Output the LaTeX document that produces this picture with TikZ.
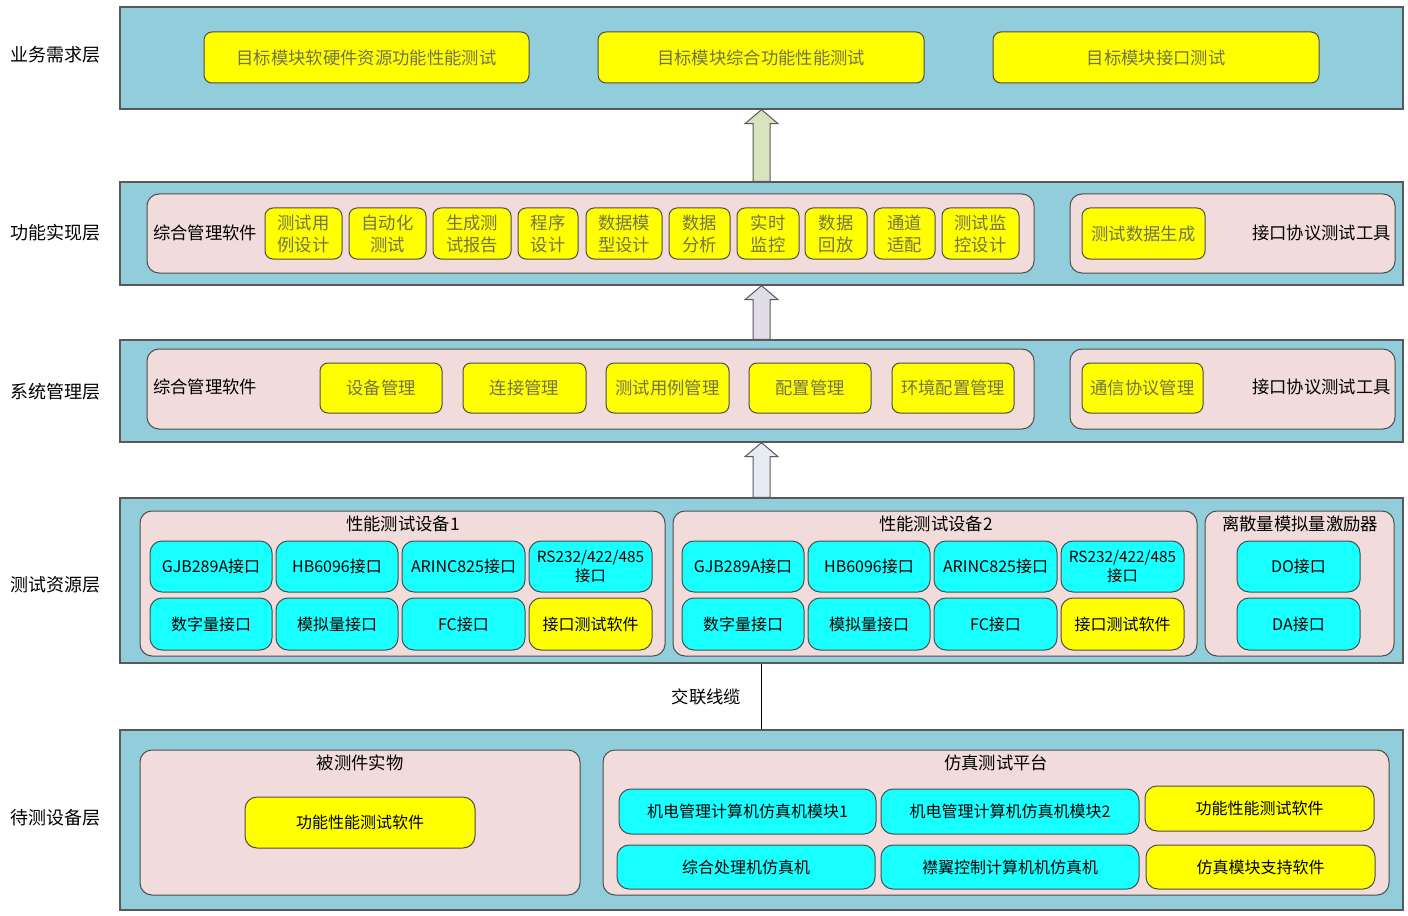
\documentclass[tikz,border=0pt]{standalone}
\usepackage{fontspec}
\usepackage{xcolor}
\usepackage{tikz}
\usetikzlibrary{positioning,fit,calc}
\newfontfamily\cjk{Noto Sans CJK SC}

\definecolor{layerblue}{RGB}{146,205,220}
\definecolor{panelpink}{RGB}{242,220,219}
\definecolor{boxyellow}{RGB}{255,255,0}
\definecolor{boxcyan}{RGB}{24,255,255}
\definecolor{dimtext}{RGB}{115,115,80}
\definecolor{edgegray}{RGB}{89,89,89}
\definecolor{arrowgreen}{RGB}{215,228,189}
\definecolor{arrowlilac}{RGB}{224,220,234}
\definecolor{arrowpale}{RGB}{230,236,245}

\begin{document}
\begin{tikzpicture}[x=0.75pt,y=0.75pt,yscale=-1,xscale=1,
    font=\cjk\fontsize{13}{16.5}\selectfont,
    wh/.style 2 args={minimum width=#1*0.75pt, minimum height=#2*0.75pt},
    layer/.style={draw=edgegray, fill=layerblue, line width=1pt, inner sep=0pt},
    panel/.style={draw=black!70, fill=panelpink, line width=0.75pt, rounded corners=9pt, inner sep=0pt},
    ybox/.style={draw=black!70, fill=boxyellow, line width=0.75pt, rounded corners=6pt, inner sep=0pt, align=center, text=dimtext},
    ysoft/.style={ybox, text=black, rounded corners=9pt, font=\cjk\fontsize{12}{15}\selectfont},
    cbox/.style={draw=black!70, fill=boxcyan, line width=0.75pt, rounded corners=9pt, inner sep=0pt, align=center, font=\cjk\fontsize{12}{15}\selectfont},
    side/.style={inner sep=0pt, font=\cjk\fontsize{13.5}{16}\selectfont},
    head/.style={inner sep=0pt},
    blockarrow/.style={draw=edgegray, line width=0.75pt, line join=miter}]
\useasboundingbox (0,0) rectangle (1408,916);

% Layers
\node[layer, fit={(120,7) (1403,109)}] (req) {};
\node[layer, fit={(120,182) (1403,285)}] (func) {};
\node[layer, fit={(120,340) (1403,442)}] (sys) {};
\node[layer, fit={(120,498) (1403,663)}] (res) {};
\node[layer, fit={(120,730) (1403,910)}] (dut) {};

% Layer names
\node[side] (nreq) at (55,55) {业务需求层};
\node[side] (nfunc) at (55,233) {功能实现层};
\node[side] (nsys) at (55,392) {系统管理层};
\node[side] (nres) at (55,585) {测试资源层};
\node[side] (ndut) at (55,818) {待测设备层};

% Business requirement layer
\node[ybox, wh={325}{51}] (r1) at (366.5,57.5) {目标模块软硬件资源功能性能测试};
\node[ybox, wh={326}{51}] (r2) at (761,57.5) {目标模块综合功能性能测试};
\node[ybox, wh={326}{51}] (r3) at (1156,57.5) {目标模块接口测试};

% Function layer
\node[panel, fit={(147,194) (1034,273)}] (fp1) {};
\node[panel, fit={(1070,194) (1395,273)}] (fp2) {};
\node[head, anchor=west] (fsw) at (153,233) {综合管理软件};
\node[ybox, wh={77}{51}] (f1) at (303.5,233.5) {测试用\\例设计};
\node[ybox, wh={77}{51}] (f2) at (387.5,233.5) {自动化\\测试};
\node[ybox, wh={78}{51}] (f3) at (472,233.5) {生成测\\试报告};
\node[ybox, wh={60}{51}] (f4) at (548,233.5) {程序\\设计};
\node[ybox, wh={76}{51}] (f5) at (624,233.5) {数据模\\型设计};
\node[ybox, wh={61}{51}] (f6) at (699.5,233.5) {数据\\分析};
\node[ybox, wh={62}{51}] (f7) at (768,233.5) {实时\\监控};
\node[ybox, wh={62}{51}] (f8) at (836,233.5) {数据\\回放};
\node[ybox, wh={61}{51}] (f9) at (904.5,233.5) {通道\\适配};
\node[ybox, wh={77}{51}] (f10) at (980.5,233.5) {测试监\\控设计};
\node[ybox, wh={123}{51}] (f11) at (1143.5,233.5) {测试数据生成};
\node[head, anchor=east] (ftool) at (1391,233) {接口协议测试工具};

% System management layer
\node[panel, fit={(147,349) (1034,429)}] (sp1) {};
\node[panel, fit={(1070,349) (1395,429)}] (sp2) {};
\node[head, anchor=west] (ssw) at (153,387) {综合管理软件};
\node[ybox, wh={122}{50}] (s1) at (381,388) {设备管理};
\node[ybox, wh={123}{50}] (s2) at (524.5,388) {连接管理};
\node[ybox, wh={123}{50}] (s3) at (667.5,388) {测试用例管理};
\node[ybox, wh={122}{50}] (s4) at (810,388) {配置管理};
\node[ybox, wh={122}{50}] (s5) at (953,388) {环境配置管理};
\node[ybox, wh={121}{50}] (s6) at (1142.5,388) {通信协议管理};
\node[head, anchor=east] (stool) at (1391,387) {接口协议测试工具};

% Test resource layer
\node[panel, fit={(140,511) (665,656)}] (tp1) {};
\node[panel, fit={(673,511) (1197,656)}] (tp2) {};
\node[panel, fit={(1205,511) (1394,656)}] (tp3) {};
\node[head] (th1) at (403,524) {性能测试设备1};
\node[head] (th2) at (936,524) {性能测试设备2};
\node[head] (th3) at (1300,524) {离散量模拟量激励器};
\foreach \dx/\dv in {0/1, 532/2} {
  \node[cbox, wh={122}{51}] (gjb\dv) at (211+\dx,566.5) {GJB289A接口};
  \node[cbox, wh={122}{51}] (hb\dv) at (337+\dx,566.5) {HB6096接口};
  \node[cbox, wh={123}{51}] (arinc\dv) at (463.5+\dx,566.5) {ARINC825接口};
  \node[cbox, wh={123}{51}, font=\cjk\fontsize{11.5}{14}\selectfont] (rs\dv) at (590.5+\dx,566.5) {RS232/422/485\\接口};
  \node[cbox, wh={122}{52}] (dig\dv) at (211+\dx,624) {数字量接口};
  \node[cbox, wh={122}{52}] (ana\dv) at (337+\dx,624) {模拟量接口};
  \node[cbox, wh={123}{52}] (fc\dv) at (463.5+\dx,624) {FC接口};
  \node[ysoft, wh={123}{52}] (its\dv) at (590.5+\dx,624) {接口测试软件};
}
\node[cbox, wh={123}{51}] (do) at (1298.5,566.5) {DO接口};
\node[cbox, wh={123}{52}] (da) at (1298.5,624) {DA接口};

% Device under test layer
\node[panel, fit={(140,750) (580,895)}] (up1) {};
\node[panel, fit={(603,750) (1389,895)}] (up2) {};
\node[head] (uh1) at (360,763) {被测件实物};
\node[head] (uh2) at (996,763) {仿真测试平台};
\node[ysoft, wh={230}{51}] (u1) at (360,822.5) {功能性能测试软件};
\node[cbox, wh={257}{45}] (m1) at (747.5,811.5) {机电管理计算机仿真机模块1};
\node[cbox, wh={258}{45}] (m2) at (1010,811.5) {机电管理计算机仿真机模块2};
\node[ysoft, wh={229}{45}] (m3) at (1259.5,808.5) {功能性能测试软件};
\node[cbox, wh={258}{44}] (m4) at (746,867) {综合处理机仿真机};
\node[cbox, wh={258}{44}] (m5) at (1010,867) {襟翼控制计算机机仿真机};
\node[ysoft, wh={229}{44}] (m6) at (1260.5,867) {仿真模块支持软件};

% Block arrows between layers
\foreach \lo/\hi/\col in {func/req/arrowgreen, sys/func/arrowlilac, res/sys/arrowpale} {
  \draw[blockarrow, fill=\col] (\hi.south) -- ($(\hi.south)+(16.5,14)$) -- ($(\hi.south)+(8.5,14)$)
    -- ($(\lo.north)+(8.5,0)$) -- ($(\lo.north)+(-8.5,0)$) -- ($(\hi.south)+(-8.5,14)$)
    -- ($(\hi.south)+(-16.5,14)$) -- cycle;
}

% Cable
\draw[line width=0.75pt] (res.south) -- node[midway, left=15pt, inner sep=0pt] (cable) {交联线缆} (dut.north);

\end{tikzpicture}
\end{document}
